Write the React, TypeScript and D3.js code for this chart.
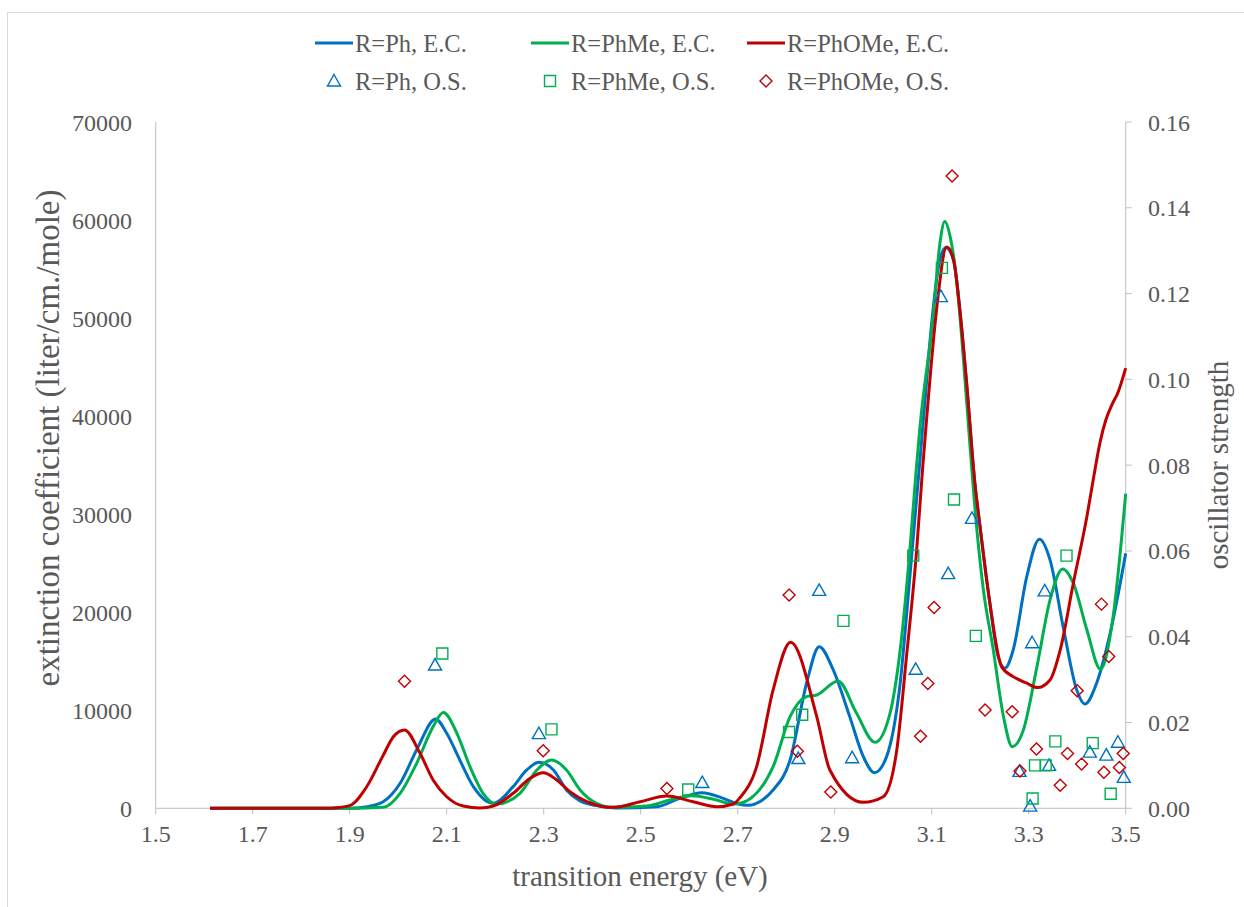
import React from 'react';
import * as d3 from 'd3';

// ---------- data ----------
const xTicks = [1.5, 1.7, 1.9, 2.1, 2.3, 2.5, 2.7, 2.9, 3.1, 3.3, 3.5];
const leftTicks = [0, 10000, 20000, 30000, 40000, 50000, 60000, 70000];
const rightTicks = [0, 0.02, 0.04, 0.06, 0.08, 0.1, 0.12, 0.14, 0.16];

// R=Ph, E.C.
const phEcE = [1.612, 1.9, 1.935, 1.969, 2.004, 2.038, 2.077, 2.1, 2.127, 2.155, 2.196, 2.237, 2.265, 2.29, 2.32, 2.347, 2.375, 2.409, 2.45, 2.533, 2.581, 2.626, 2.67, 2.701, 2.72, 2.773, 2.808, 2.842, 2.868, 2.897, 2.931, 2.959, 2.982, 3.007, 3.035, 3.055, 3.074, 3.086, 3.1, 3.115, 3.129, 3.145, 3.158, 3.172, 3.189, 3.199, 3.219, 3.237, 3.251, 3.268, 3.296, 3.322, 3.344, 3.371, 3.399, 3.416, 3.44, 3.468, 3.5];
const phEcV = [0, 0, 160, 670, 2550, 5950, 9110, 7650, 4930, 2210, 510, 2210, 3910, 4690, 3910, 1870, 740, 270, 30, 160, 1020, 1590, 1020, 440, 300, 1870, 4930, 12755, 16490, 14110, 9350, 5270, 3630, 5270, 12755, 23630, 34500, 41500, 49500, 55500, 57200, 55900, 50850, 43370, 33160, 29000, 21260, 15470, 14290, 16150, 23630, 27450, 25340, 18530, 12070, 10640, 12755, 17860, 26000];

// R=PhMe, E.C.
const phMeEcE = [1.612, 1.9, 1.969, 2.004, 2.038, 2.072, 2.093, 2.121, 2.148, 2.175, 2.203, 2.251, 2.286, 2.316, 2.347, 2.375, 2.409, 2.444, 2.512, 2.56, 2.605, 2.65, 2.691, 2.705, 2.773, 2.808, 2.842, 2.863, 2.907, 2.945, 2.983, 3.014, 3.035, 3.055, 3.068, 3.076, 3.103, 3.117, 3.127, 3.138, 3.152, 3.165, 3.178, 3.192, 3.206, 3.227, 3.248, 3.266, 3.289, 3.317, 3.344, 3.37, 3.392, 3.42, 3.448, 3.474, 3.5];
const phMeEcV = [0, 0, 100, 1530, 4590, 8330, 9760, 7650, 4250, 1530, 440, 1530, 3910, 4930, 3910, 1870, 510, 100, 230, 850, 1270, 920, 440, 510, 4250, 9350, 11390, 11560, 12990, 9690, 6730, 9690, 16150, 26360, 34500, 39000, 50160, 57650, 59860, 58330, 53570, 46080, 37580, 29000, 22500, 16150, 9350, 6290, 7990, 14450, 21260, 24420, 22960, 18190, 14180, 19550, 32100];

// R=PhOMe, E.C.
const phOMeEcE = [1.612, 1.85, 1.873, 1.901, 1.935, 1.969, 1.99, 2.013, 2.045, 2.072, 2.1, 2.134, 2.169, 2.196, 2.237, 2.272, 2.299, 2.327, 2.354, 2.389, 2.423, 2.444, 2.499, 2.554, 2.608, 2.657, 2.691, 2.705, 2.739, 2.773, 2.809, 2.863, 2.89, 2.959, 3.0, 3.028, 3.048, 3.069, 3.081, 3.09, 3.11, 3.131, 3.145, 3.158, 3.172, 3.189, 3.199, 3.219, 3.244, 3.268, 3.296, 3.318, 3.344, 3.365, 3.392, 3.42, 3.433, 3.447, 3.459, 3.472, 3.484, 3.5];
const phOMeEcV = [0, 0, 60, 300, 2200, 5400, 7300, 7990, 5610, 2890, 1180, 230, 30, 230, 1530, 3060, 3630, 2890, 1700, 670, 160, 100, 670, 1250, 670, 160, 440, 1100, 4250, 12070, 16940, 9350, 3910, 610, 1180, 5950, 15470, 26360, 34500, 40000, 50850, 57245, 55950, 50850, 43370, 33160, 29000, 21260, 14450, 13430, 12755, 12310, 13090, 16150, 22960, 29760, 33500, 37300, 39600, 41200, 42400, 44900];

// oscillator strengths
const phOsE = [2.076, 2.29, 2.627, 2.825, 2.868, 2.936, 3.067, 3.119, 3.134, 3.183, 3.281, 3.303, 3.307, 3.333, 3.342, 3.426, 3.46, 3.484, 3.496];
const phOsV = [0.0334, 0.0174, 0.006, 0.0116, 0.0508, 0.0118, 0.0324, 0.1193, 0.0547, 0.0676, 0.0086, 0.0005, 0.0386, 0.0507, 0.01, 0.0131, 0.0124, 0.0154, 0.0072];

const phMeOsE = [2.091, 2.316, 2.598, 2.806, 2.833, 2.918, 3.062, 3.121, 3.146, 3.191, 3.308, 3.313, 3.335, 3.355, 3.378, 3.432, 3.469];
const phMeOsV = [0.0361, 0.0184, 0.0044, 0.0178, 0.0218, 0.0437, 0.0589, 0.126, 0.072, 0.0402, 0.0023, 0.01, 0.01, 0.0156, 0.0589, 0.0152, 0.0034];

const phOMeOsE = [2.013, 2.299, 2.554, 2.806, 2.823, 2.892, 3.077, 3.092, 3.105, 3.142, 3.21, 3.266, 3.282, 3.316, 3.365, 3.38, 3.4, 3.409, 3.45, 3.455, 3.465, 3.487, 3.495];
const phOMeOsV = [0.0296, 0.0134, 0.0046, 0.0497, 0.0133, 0.0038, 0.0168, 0.0291, 0.0468, 0.1474, 0.0229, 0.0225, 0.0087, 0.0138, 0.0054, 0.0128, 0.0274, 0.0103, 0.0476, 0.0084, 0.0354, 0.0095, 0.0128];

const BLUE = '#0070C0';
const GREEN = '#00B050';
const RED = '#C00000';
const TEXT = '#595959';
const AXIS = '#BFBFBF';
const FONT = "'Liberation Serif', 'Times New Roman', serif";

const triPath = 'M0,-6.5L6.5,5L-6.5,5Z';
const sqPath = 'M-5.5,-5.5H5.5V5.5H-5.5Z';
const diaPath = 'M0,-6L6,0L0,6L-6,0Z';

export default function App() {
  const W = 1244;
  const H = 907;
  const L = 155.7, R = 1125.7, T = 122, B = 808.3;
  const x = d3.scaleLinear().domain([1.5, 3.5]).range([L, R]);
  const yL = d3.scaleLinear().domain([0, 70000]).range([B, T]);
  const yR = d3.scaleLinear().domain([0, 0.16]).range([B, T]);

  const mkLine = (E: number[], V: number[]) =>
    d3.line<number>()
      .x((_, i) => x(E[i]))
      .y((_, i) => yL(V[i]))
      .curve(d3.curveMonotoneX)(E) || '';

  const lines = [
    { E: phEcE, V: phEcV, c: BLUE },
    { E: phMeEcE, V: phMeEcV, c: GREEN },
    { E: phOMeEcE, V: phOMeEcV, c: RED },
  ];
  const scat = [
    { E: phOsE, V: phOsV, c: BLUE, p: triPath },
    { E: phMeOsE, V: phMeOsV, c: GREEN, p: sqPath },
    { E: phOMeOsE, V: phOMeOsV, c: RED, p: diaPath },
  ];

  const legendRow1 = [
    { lx: 315, tx: 355, label: 'R=Ph, E.C.', c: BLUE },
    { lx: 531, tx: 571, label: 'R=PhMe, E.C.', c: GREEN },
    { lx: 747, tx: 787, label: 'R=PhOMe, E.C.', c: RED },
  ];
  const legendRow2 = [
    { mx: 334, tx: 355, label: 'R=Ph, O.S.', c: BLUE, p: triPath },
    { mx: 550, tx: 571, label: 'R=PhMe, O.S.', c: GREEN, p: sqPath },
    { mx: 766, tx: 787, label: 'R=PhOMe, O.S.', c: RED, p: diaPath },
  ];

  return (
    <svg width={W} height={H} style={{ position: 'absolute', left: 0, top: 0, background: '#fff' }} fontFamily={FONT}>
      <rect x={7.5} y={12.5} width={1300} height={1000} fill="#fff" stroke="#D9D9D9" strokeWidth={1} />

      {/* axes */}
      <line x1={L} x2={L} y1={T} y2={B} stroke={AXIS} strokeWidth={1} />
      <line x1={R} x2={R} y1={T} y2={B} stroke={AXIS} strokeWidth={1} />
      <line x1={L} x2={R} y1={B} y2={B} stroke={AXIS} strokeWidth={1} />
      {xTicks.map((t) => (
        <g key={'xt' + t}>
          <line x1={x(t)} x2={x(t)} y1={B} y2={B + 6} stroke={AXIS} />
          <text x={x(t)} y={B + 34} textAnchor="middle" fontSize={24} fill={TEXT}>{t.toFixed(1)}</text>
        </g>
      ))}
      {leftTicks.map((t) => (
        <text key={'yl' + t} x={132} y={yL(t) + 8.5} textAnchor="end" fontSize={24} fill={TEXT}>{t}</text>
      ))}
      {rightTicks.map((t) => (
        <g key={'yr' + t}>
          <line x1={R} x2={R + 6} y1={yR(t)} y2={yR(t)} stroke={AXIS} />
          <text x={1148} y={yR(t) + 8.5} textAnchor="start" fontSize={24} fill={TEXT}>{t.toFixed(2)}</text>
        </g>
      ))}

      {/* titles */}
      <text x={640} y={886} textAnchor="middle" fontSize={29} fill={TEXT}>transition energy (eV)</text>
      <text transform={`translate(59,438) rotate(-90)`} textAnchor="middle" fontSize={33} fill={TEXT}>extinction coefficient (liter/cm./mole)</text>
      <text transform={`translate(1228,465) rotate(-90)`} textAnchor="middle" fontSize={29} fill={TEXT}>oscillator strength</text>

      {/* curves */}
      {lines.map((l, i) => (
        <path key={'l' + i} d={mkLine(l.E, l.V)} fill="none" stroke={l.c} strokeWidth={3} strokeLinejoin="round" />
      ))}

      {/* markers */}
      {scat.map((s, i) => (
        <g key={'s' + i}>
          {s.E.map((e, j) => (
            <path key={j} d={s.p} transform={`translate(${x(e)},${yR(s.V[j])})`} fill="none" stroke={s.c} strokeWidth={1.4} />
          ))}
        </g>
      ))}

      {/* legend */}
      {legendRow1.map((d) => (
        <g key={d.label}>
          <line x1={d.lx} x2={d.lx + 38} y1={43} y2={43} stroke={d.c} strokeWidth={3} />
          <text x={d.tx} y={52} fontSize={24.5} fill={TEXT}>{d.label}</text>
        </g>
      ))}
      {legendRow2.map((d) => (
        <g key={d.label}>
          <path d={d.p} transform={`translate(${d.mx},81)`} fill="none" stroke={d.c} strokeWidth={1.4} />
          <text x={d.tx} y={90} fontSize={24.5} fill={TEXT}>{d.label}</text>
        </g>
      ))}
    </svg>
  );
}
